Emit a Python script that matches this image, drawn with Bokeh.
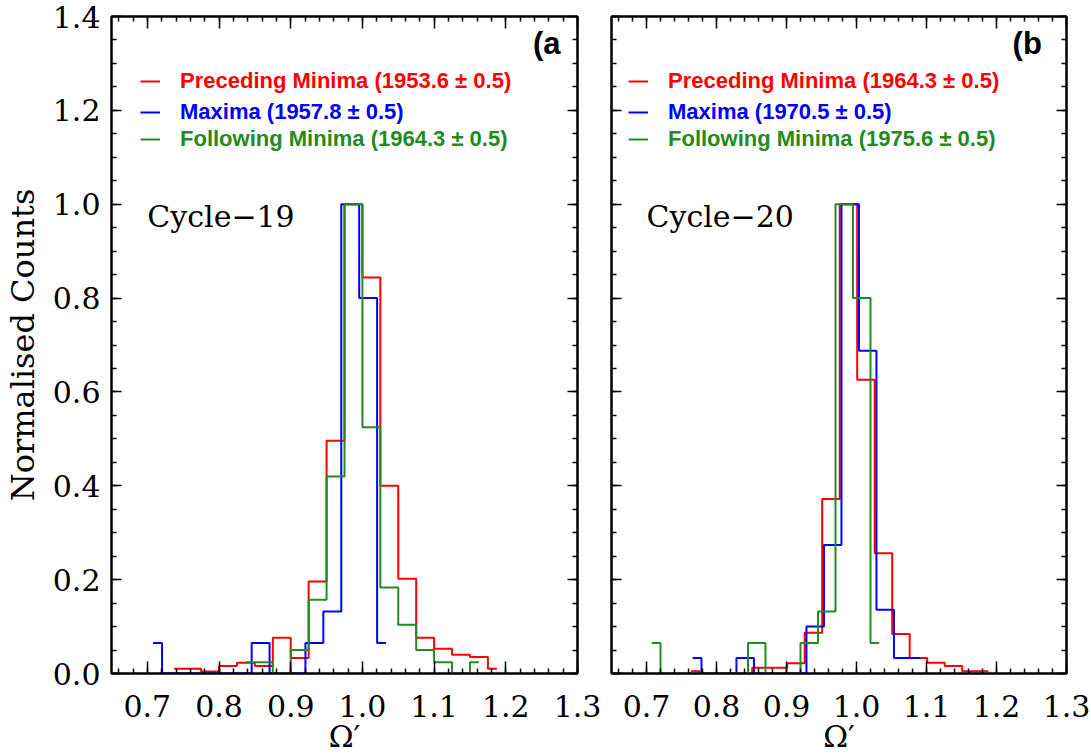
from bokeh.plotting import figure
from bokeh.layouts import row
from bokeh.models import (Range1d, FixedTicker, LinearAxis, PrintfTickFormatter,
                          CustomJSTickFormatter, Legend, LegendItem, Label)
from bokeh.embed import file_html
from bokeh.resources import INLINE

# ---------------- data (bin centres in Omega', normalised counts) ----------------
# Panel (a): Cycle-19
c19_pre_x = [0.7375, 0.7625, 0.7875, 0.8125, 0.8375, 0.8625, 0.8875, 0.9125, 0.9375, 0.9625,
             0.9875, 1.0125, 1.0375, 1.0625, 1.0875, 1.1125, 1.1375, 1.1625, 1.1875]
c19_pre_y = [0.010, 0.010, 0.004, 0.016, 0.023, 0.016, 0.076, 0.033, 0.196, 0.496,
             1.000, 0.844, 0.400, 0.202, 0.076, 0.053, 0.040, 0.035, 0.010]
c19_max_x = [0.708, 0.733, 0.758, 0.783, 0.808, 0.833, 0.858, 0.883, 0.908, 0.933,
             0.958, 0.983, 1.008, 1.033]
c19_max_y = [0.065, 0.0, 0.0, 0.0, 0.0, 0.0, 0.065, 0.0, 0.0, 0.065,
             0.132, 1.000, 0.800, 0.065]
c19_fol_x = [0.8375, 0.8625, 0.8875, 0.9125, 0.9375, 0.9625, 0.9875, 1.0125, 1.0375, 1.0625,
             1.0875, 1.1125, 1.1375, 1.1625]
c19_fol_y = [0.024, 0.024, 0.0, 0.050, 0.157, 0.420, 1.000, 0.525, 0.183, 0.104,
             0.050, 0.024, 0.0, 0.024]

# Panel (b): Cycle-20
c20_pre_x = [0.7635, 0.7885, 0.8135, 0.8385, 0.8635, 0.8885, 0.9135, 0.9385, 0.9635, 0.9885,
             1.0135, 1.0385, 1.0635, 1.0885, 1.1135, 1.1385, 1.1635, 1.1885]
c20_pre_y = [0.005, 0.0, 0.0, 0.0, 0.012, 0.012, 0.022, 0.087, 0.372, 1.000,
             0.626, 0.256, 0.084, 0.033, 0.023, 0.016, 0.005, 0.005]
c20_max_x = [0.766, 0.791, 0.816, 0.841, 0.866, 0.891, 0.916, 0.941, 0.966, 0.991,
             1.016, 1.041, 1.066, 1.091]
c20_max_y = [0.033, 0.0, 0.0, 0.033, 0.0, 0.0, 0.0, 0.100, 0.274, 1.000,
             0.688, 0.136, 0.033, 0.033]
c20_fol_x = [0.7075, 0.7325, 0.7575, 0.7825, 0.8075, 0.8325, 0.8575, 0.8825, 0.9075, 0.9325,
             0.9575, 0.9825, 1.0075, 1.0325]
c20_fol_y = [0.065, 0.0, 0.0, 0.0, 0.0, 0.0, 0.065, 0.0, 0.0, 0.065,
             0.132, 1.000, 0.800, 0.065]

c19_labels = ["Preceding Minima (1953.6 \u00b1 0.5)", "Maxima (1957.8 \u00b1 0.5)",
              "Following Minima (1964.3 \u00b1 0.5)"]
c20_labels = ["Preceding Minima (1964.3 \u00b1 0.5)", "Maxima (1970.5 \u00b1 0.5)",
              "Following Minima (1975.6 \u00b1 0.5)"]
cycle_names = ["Cycle\u221219", "Cycle\u221220"]
panel_tags = ["(a", "(b"]

x_ticks = [0.7, 0.8, 0.9, 1.0, 1.1, 1.2, 1.3]
y_ticks = [0.0, 0.2, 0.4, 0.6, 0.8, 1.0, 1.2, 1.4]
X_RANGE = (0.65, 1.3)
Y_RANGE = (0.0, 1.4)

# minor ticks: every 0.02 in x, every 0.05 in y
x_minor = [round(0.66 + 0.02 * i, 4) for i in range(33)]
y_minor = [round(0.05 * i, 4) for i in range(29)]

# ---------------- styling ----------------
SERIF = "DejaVu Serif"
SANS = "Liberation Sans"
COLORS = ["#ff0000", "#0000ff", "#228b22"]
H = 756


def style_axis(ax, major_in, minor_in, labels):
    ax.major_tick_in = major_in
    ax.major_tick_out = 0
    ax.minor_tick_in = minor_in
    ax.minor_tick_out = 0
    ax.axis_line_color = "black"
    ax.axis_line_width = 2
    ax.major_tick_line_color = "black"
    ax.minor_tick_line_color = "black"
    ax.major_tick_line_width = 1.5
    ax.minor_tick_line_width = 1.5
    if labels:
        ax.formatter = PrintfTickFormatter(format="%.1f")
        ax.major_label_text_font = SERIF
        ax.major_label_text_font_size = "30px"
        ax.major_label_text_color = "black"
    else:
        ax.formatter = CustomJSTickFormatter(code="return ''")
        ax.major_label_text_font_size = "0px"
        ax.major_label_standoff = 0


def build(series, labels, cycle, tag, tag_x, width, bl, br, show_y, legend_dx):
    p = figure(width=width, height=H, x_range=Range1d(*X_RANGE), y_range=Range1d(*Y_RANGE),
               output_backend="svg", toolbar_location=None,
               x_axis_location=None, y_axis_location=None,
               min_border_left=bl, min_border_right=br, min_border_top=16, min_border_bottom=83)
    p.grid.grid_line_color = None
    p.outline_line_color = "black"
    p.outline_line_width = 2
    p.background_fill_color = "white"
    p.border_fill_color = "white"

    bottom = LinearAxis(ticker=FixedTicker(ticks=x_ticks, minor_ticks=x_minor))
    style_axis(bottom, 12, 5, True)
    bottom.major_label_standoff = 21
    bottom.axis_label = "\u03a9\u2032"
    bottom.axis_label_text_font = SERIF
    bottom.axis_label_text_font_size = "30px"
    bottom.axis_label_text_font_style = "normal"
    bottom.axis_label_text_color = "black"
    bottom.axis_label_standoff = -1
    p.add_layout(bottom, "below")

    top = LinearAxis(ticker=FixedTicker(ticks=x_ticks, minor_ticks=x_minor))
    style_axis(top, 12, 5, False)
    p.add_layout(top, "above")

    left = LinearAxis(ticker=FixedTicker(ticks=y_ticks, minor_ticks=y_minor))
    style_axis(left, 10, 5, show_y)
    if show_y:
        left.major_label_standoff = 11
        left.axis_label = "Normalised Counts"
        left.axis_label_text_font = SERIF
        left.axis_label_text_font_size = "32px"
        left.axis_label_text_font_style = "normal"
        left.axis_label_text_color = "black"
        left.axis_label_standoff = 8
    p.add_layout(left, "left")

    right = LinearAxis(ticker=FixedTicker(ticks=y_ticks, minor_ticks=y_minor))
    style_axis(right, 10, 5, False)
    p.add_layout(right, "right")

    rends = []
    for (x, y), col in zip(series, COLORS):
        rends.append(p.step(x=x, y=y, mode="center", line_color=col, line_width=2))

    for i, (r, lab, col) in enumerate(zip(rends, labels, COLORS)):
        lg = Legend(items=[LegendItem(label=lab, renderers=[r])],
                    location=(legend_dx, [579, 548, 521][i]),
                    label_text_color=col, label_text_font=SANS, label_text_font_style="bold",
                    label_text_font_size="22px", glyph_width=20, glyph_height=20,
                    label_height=20, label_standoff=20, padding=0, margin=0, spacing=0,
                    border_line_color=None, background_fill_alpha=0)
        p.add_layout(lg)

    p.add_layout(Label(x=0.70, y=0.973, text=cycle, text_font=SERIF, text_font_size="30px",
                       text_color="black", text_baseline="alphabetic"))
    p.add_layout(Label(x=tag_x, y=1.343, text=tag, text_font=SANS, text_font_style="bold",
                       text_font_size="31px", text_color="black", text_baseline="alphabetic"))
    return p


pa = build([(c19_pre_x, c19_pre_y), (c19_max_x, c19_max_y), (c19_fol_x, c19_fol_y)],
           c19_labels, cycle_names[0], panel_tags[0], 1.238, 604, 111, 27, True, 29)
pb = build([(c20_pre_x, c20_pre_y), (c20_max_x, c20_max_y), (c20_fol_x, c20_fol_y)],
           c20_labels, cycle_names[1], panel_tags[1], 1.223, 487, 7, 25, False, 17)

layout = row(pa, pb)
open("out.html", "w").write(file_html(layout, INLINE, title="Normalised Counts"))
